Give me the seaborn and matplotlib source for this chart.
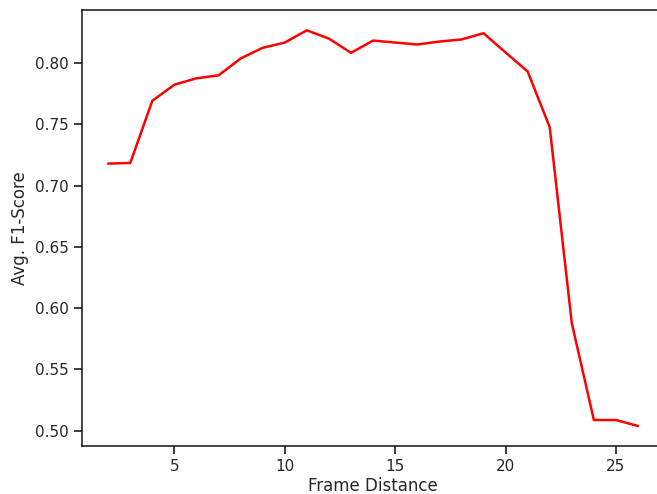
import matplotlib
matplotlib.use("Agg")
import matplotlib.pyplot as plt
import seaborn as sns
import pandas as pd

frame_distance = list(range(2, 27))
f1_score = [0.718, 0.7185, 0.7693, 0.7824, 0.7876, 0.790, 0.8038, 0.8125, 0.8168,
            0.8268, 0.820, 0.8084, 0.8184, 0.8168, 0.8152, 0.8176, 0.8193, 0.8244,
            0.8087, 0.7932, 0.7477, 0.5878, 0.5087, 0.5087, 0.5038]

df = pd.DataFrame({"Frame Distance": frame_distance, "Avg. F1-Score": f1_score})

sns.set_theme(style="ticks", context="notebook")
plt.rcParams['font.family'] = ['DejaVu Sans']

fig = plt.figure(figsize=(6.57, 4.94), dpi=100)
ax = fig.add_axes([81.7 / 657, 1 - 445.8 / 494, 582.8 / 657, 435.3 / 494])
sns.lineplot(data=df, x="Frame Distance", y="Avg. F1-Score", color="red", linewidth=1.8, ax=ax)
ax.set_xticks([5, 10, 15, 20, 25])
ax.set_yticks([0.50, 0.55, 0.60, 0.65, 0.70, 0.75, 0.80])
ax.set_xlim(0.8, 27.2)
for s in ax.spines.values():
    s.set_linewidth(1.1)
    s.set_color("#111111")
ax.set_xlabel("Frame Distance", labelpad=2.5)
ax.set_ylabel("Avg. F1-Score")
fig.savefig("out.png", dpi=100)
